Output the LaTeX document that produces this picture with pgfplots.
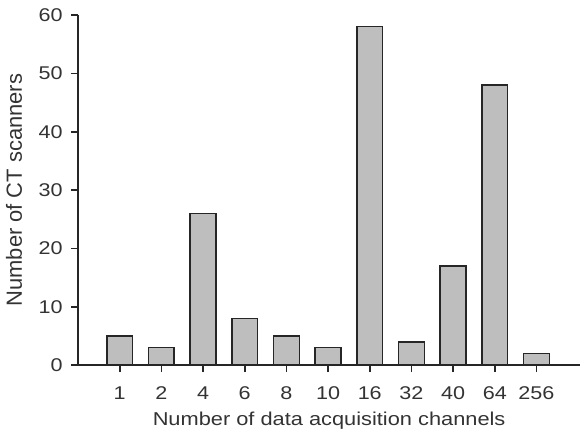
\documentclass[border=0pt]{standalone}
\usepackage{pgfplots}
\pgfplotsset{compat=1.18}
\usepackage{fontspec}
\setmainfont{Liberation Sans}
\newfontfamily\widefont[FakeStretch=1.17]{Liberation Sans}
\definecolor{barfill}{HTML}{BEBEBE}
\definecolor{axgray}{HTML}{262626}
\begin{document}
\begin{tikzpicture}
\begin{axis}[
  scale only axis,
  width=502bp, height=350bp,
  xmin=-1, xmax=11.05,
  ymin=0, ymax=60,
  axis x line*=bottom, axis y line*=left,
  axis line style={-, line width=1.6bp, axgray},
  xtick=data,
  xticklabels={1,2,4,6,8,10,16,32,40,64,256},
  ytick={0,10,20,30,40,50,60},
  minor tick num=0,
  tick align=outside,
  major tick length=7bp,
  tick style={line width=1.6bp, draw=axgray},
  /pgf/number format/assume math mode=true,
  tick label style={font=\widefont\fontsize{18.5}{21}\selectfont, text=black!80},
  xticklabel style={yshift=-11bp},
  yticklabel style={xshift=-5bp},
  clip=false,
]
\addplot[ybar, bar width=0.62, fill=barfill, draw=axgray, line width=1.6bp]
coordinates {(0,5) (1,3) (2,26) (3,8) (4,5) (5,3) (6,58) (7,4) (8,17) (9,48) (10,2)};
\pgfplotsinvokeforeach{0,1,2,3,4,5,6,7,8,9,10}{
  \draw[line width=1.6bp, axgray] (axis cs:#1,0) -- ([yshift=-7bp]axis cs:#1,0);
}
\pgfplotsinvokeforeach{0,10,20,30,40,50,60}{
  \draw[line width=1.6bp, axgray] (axis cs:-1,#1) -- ([xshift=-7bp]axis cs:-1,#1);
}
\node[anchor=center, inner sep=0pt, font=\widefont\fontsize{18.7}{22}\selectfont, text=black!80]
  at (rel axis cs:0.5,-0.16) {Number of data acquisition channels};
\node[anchor=center, rotate=90, inner sep=0pt, font=\fontsize{22}{25}\selectfont, text=black!80]
  at (rel axis cs:-0.1275,0.5) {Number of CT scanners};
\path ([xshift=-78bp]rel axis cs:0,0.5) ([yshift=15bp]rel axis cs:0,1);
\end{axis}
\end{tikzpicture}
\end{document}
